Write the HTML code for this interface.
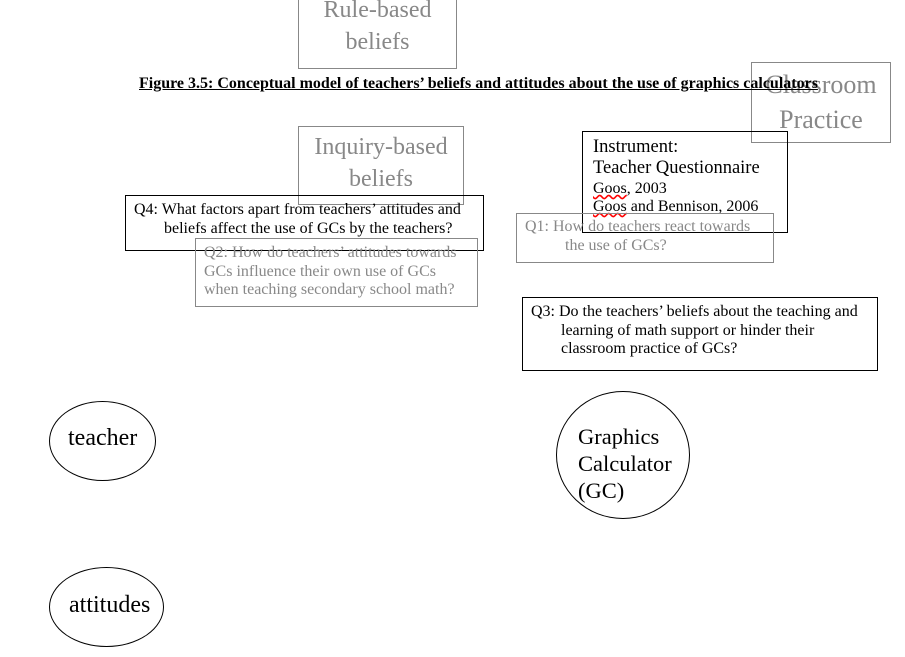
<!DOCTYPE html>
<html><head><meta charset="utf-8"><style>
body{margin:0;width:905px;height:657px;background:#fff;position:relative;overflow:hidden;font-family:"Liberation Serif",serif;}
.b{position:absolute;box-sizing:border-box;}
.g{border:1px solid #888;color:#888;}
.k{border:1px solid #000;color:#000;}
.big{font-size:24px;line-height:32px;text-align:center;white-space:nowrap;}
.q{font-size:16px;line-height:18.5px;padding:6px 0 0 8px;white-space:nowrap;}
.q .i{padding-left:30px;}
.e{position:absolute;border:1px solid #000;border-radius:50%;box-sizing:border-box;font-size:24px;}
</style></head><body>
<div class="b g big" style="left:298px;top:-11px;width:159px;height:80px;padding-top:4px;">Rule-based<br>beliefs</div>
<div class="b g big" style="left:298px;top:126px;width:166px;height:79px;padding-top:4px;">Inquiry-based<br>beliefs</div>
<div class="b g big" style="left:751px;top:62px;width:140px;height:81px;padding-top:4px;font-size:26px;line-height:35px;">Classroom<br>Practice</div>
<div class="b" style="left:139px;top:75px;font-size:16px;font-weight:bold;text-decoration:underline;white-space:nowrap;">Figure 3.5: Conceptual model of teachers’ beliefs and attitudes about the use of graphics calculators</div>
<div class="b k" style="left:582px;top:131px;width:206px;height:102px;padding:5px 0 0 10px;white-space:nowrap;">
<div style="font-size:18.5px;line-height:21px;">Instrument:</div>
<div style="font-size:18.5px;line-height:21px;">Teacher Questionnaire</div>
<div style="font-size:16px;line-height:19px;"><span style="text-decoration:underline wavy red;">Goos</span>, 2003</div>
<div style="font-size:16px;line-height:18px;"><span style="text-decoration:underline wavy red;">Goos</span> and Bennison, 2006</div>
</div>
<div class="b g q" style="left:516px;top:213px;width:258px;height:50px;padding-top:4px;">Q1: How do teachers react towards<div class="i" style="padding-left:40px">the use of GCs?</div></div>
<div class="b k q" style="left:125px;top:195px;width:359px;height:56px;padding-top:5px;">Q4: What factors apart from teachers’ attitudes and<div class="i">beliefs affect the use of GCs by the teachers?</div></div>
<div class="b g q" style="left:195px;top:238px;width:283px;height:69px;padding-top:5px;">Q2: How do teachers’ attitudes towards<br>GCs influence their own use of GCs<br>when teaching secondary school math?</div>
<div class="b k q" style="left:522px;top:297px;width:356px;height:74px;padding-top:5px;">Q3: Do the teachers’ beliefs about the teaching and<div class="i">learning of math support or hinder their</div><div class="i">classroom practice of GCs?</div></div>
<div class="e" style="left:49px;top:401px;width:107px;height:80px;padding:23px 0 0 18px;">teacher</div>
<div class="e" style="left:49px;top:567px;width:115px;height:80px;padding:24px 0 0 19px;">attitudes</div>
<div class="e" style="left:556px;top:391px;width:134px;height:128px;padding:31px 0 0 21px;line-height:27px;font-size:22.5px;">Graphics<br>Calculator<br>(GC)</div>
</body></html>
